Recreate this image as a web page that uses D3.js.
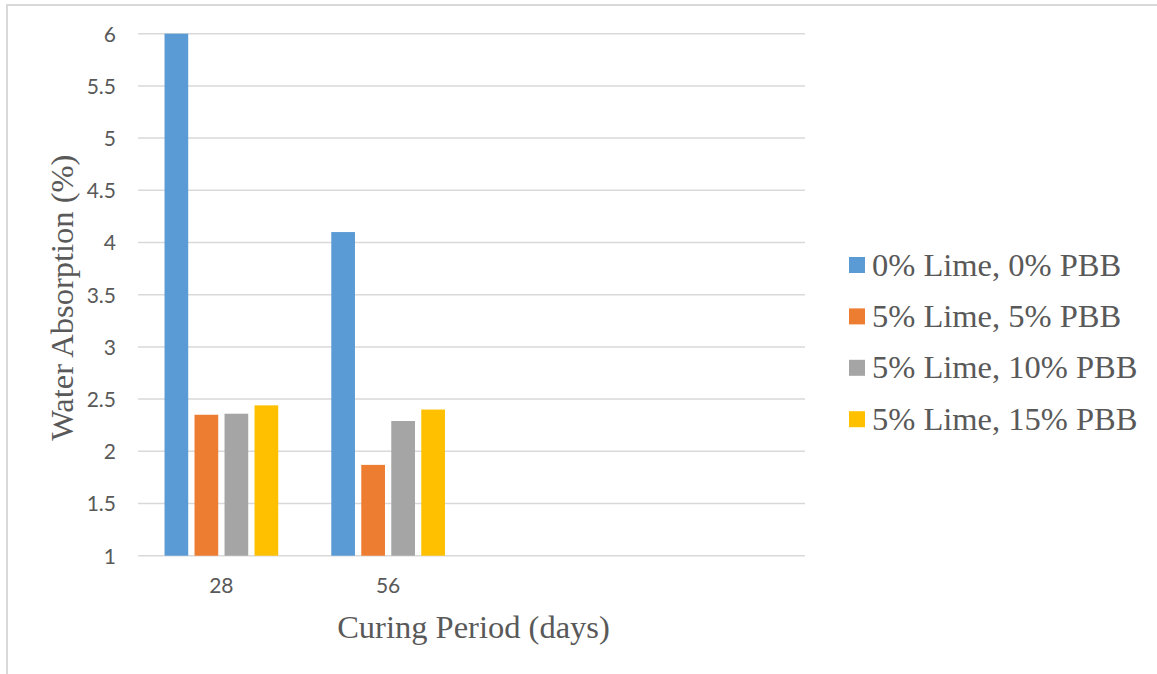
<!DOCTYPE html>
<html>
<head>
<meta charset="utf-8">
<script src="https://cdn.jsdelivr.net/npm/d3@7/dist/d3.min.js"></script>
<style>
  html, body { margin: 0; padding: 0; background: #fff; }
  svg { display: block; }
</style>
</head>
<body>
<svg id="chart" width="1157" height="674"></svg>
<script>
// Curing periods (the last two slots are empty on the axis)
const categories = ["28", "56", "", ""];
const seriesNames = ["0% Lime, 0% PBB", "5% Lime, 5% PBB", "5% Lime, 10% PBB", "5% Lime, 15% PBB"];
const lime0pbb0 = [6.0, 4.1];
const lime5pbb5 = [2.35, 1.87];
const lime5pbb10 = [2.36, 2.29];
const lime5pbb15 = [2.44, 2.40];
const yTicks = [1, 1.5, 2, 2.5, 3, 3.5, 4, 4.5, 5, 5.5, 6];
const colors = ["#5B9BD5", "#ED7D31", "#A5A5A5", "#FFC000"];

const seriesValues = [lime0pbb0, lime5pbb5, lime5pbb10, lime5pbb15];

const svg = d3.select("#chart");
const W = 1157, H = 674;
const plot = { left: 138, right: 805, top: 33.7, bottom: 555.7 };
const serif = "'Liberation Serif', 'Times New Roman', serif";
const sans = "Lato, 'Open Sans', sans-serif";

// outer frame (top and left edges visible)
svg.append("line").attr("x1", 6).attr("x2", W).attr("y1", 5).attr("y2", 5)
  .attr("stroke", "#d9d9d9").attr("stroke-width", 2);
svg.append("line").attr("x1", 7).attr("x2", 7).attr("y1", 4).attr("y2", H)
  .attr("stroke", "#d9d9d9").attr("stroke-width", 2);

const x0 = d3.scaleBand()
  .domain(d3.range(categories.length))
  .range([plot.left, plot.right])
  .paddingInner(0).paddingOuter(0);

const x1 = d3.scaleBand()
  .domain(d3.range(seriesNames.length))
  .range([0, x0.bandwidth()])
  .paddingInner(0.21)
  .paddingOuter(0.884);

const y = d3.scaleLinear().domain([1, 6]).range([plot.bottom, plot.top]);

// gridlines
svg.append("g")
  .selectAll("line")
  .data(yTicks)
  .join("line")
  .attr("x1", plot.left).attr("x2", plot.right)
  .attr("y1", d => y(d)).attr("y2", d => y(d))
  .attr("stroke", "#d9d9d9").attr("stroke-width", 1.5);

// y axis labels
const yAxis = d3.axisLeft(y).tickValues(yTicks).tickSize(0).tickPadding(0)
  .tickFormat(d => String(d));
svg.append("g")
  .attr("transform", `translate(${plot.left - 22},0)`)
  .call(yAxis)
  .call(g => g.select(".domain").remove())
  .call(g => g.selectAll("text")
    .attr("font-family", sans)
    .attr("font-size", 21)
    .attr("fill", "#595959")
    .attr("dy", "0.35em"));

// x axis labels
const xAxis = d3.axisBottom(x0).tickSize(0).tickPadding(0)
  .tickFormat(i => categories[i]);
svg.append("g")
  .attr("transform", `translate(0,${plot.bottom + 22})`)
  .call(xAxis)
  .call(g => g.select(".domain").remove())
  .call(g => g.selectAll("text")
    .attr("font-family", sans)
    .attr("font-size", 21)
    .attr("fill", "#595959")
    .attr("dy", "0.75em"));

// bars
const groups = svg.append("g")
  .selectAll("g")
  .data(categories.map((c, i) => i))
  .join("g")
  .attr("transform", i => `translate(${x0(i)},0)`);

groups.selectAll("rect")
  .data(i => seriesValues.map((vals, s) => ({ s, v: vals[i] })).filter(d => d.v != null))
  .join("rect")
  .attr("x", d => x1(d.s))
  .attr("width", x1.bandwidth())
  .attr("y", d => y(d.v))
  .attr("height", d => y(1) - y(d.v))
  .attr("fill", d => colors[d.s]);

// axis titles
svg.append("text")
  .attr("x", 473.5)
  .attr("y", 638)
  .attr("text-anchor", "middle")
  .attr("font-family", serif)
  .attr("font-size", 32.5)
  .attr("fill", "#595959")
  .text("Curing Period (days)");

svg.append("text")
  .attr("transform", `translate(73,${(plot.top + plot.bottom) / 2 + 3}) rotate(-90)`)
  .attr("text-anchor", "middle")
  .attr("font-family", serif)
  .attr("font-size", 32.5)
  .attr("fill", "#595959")
  .text("Water Absorption (%)");

// legend
const legend = svg.append("g")
  .selectAll("g")
  .data(seriesNames)
  .join("g")
  .attr("transform", (d, i) => `translate(849,${265 + i * 51.4})`);

legend.append("rect")
  .attr("x", 0).attr("y", -8)
  .attr("width", 16).attr("height", 16)
  .attr("fill", (d, i) => colors[i]);

legend.append("text")
  .attr("x", 23).attr("y", 10.5)
  .attr("font-family", serif)
  .attr("font-size", 32.5)
  .attr("fill", "#595959")
  .text(d => d);
</script>
</body>
</html>
